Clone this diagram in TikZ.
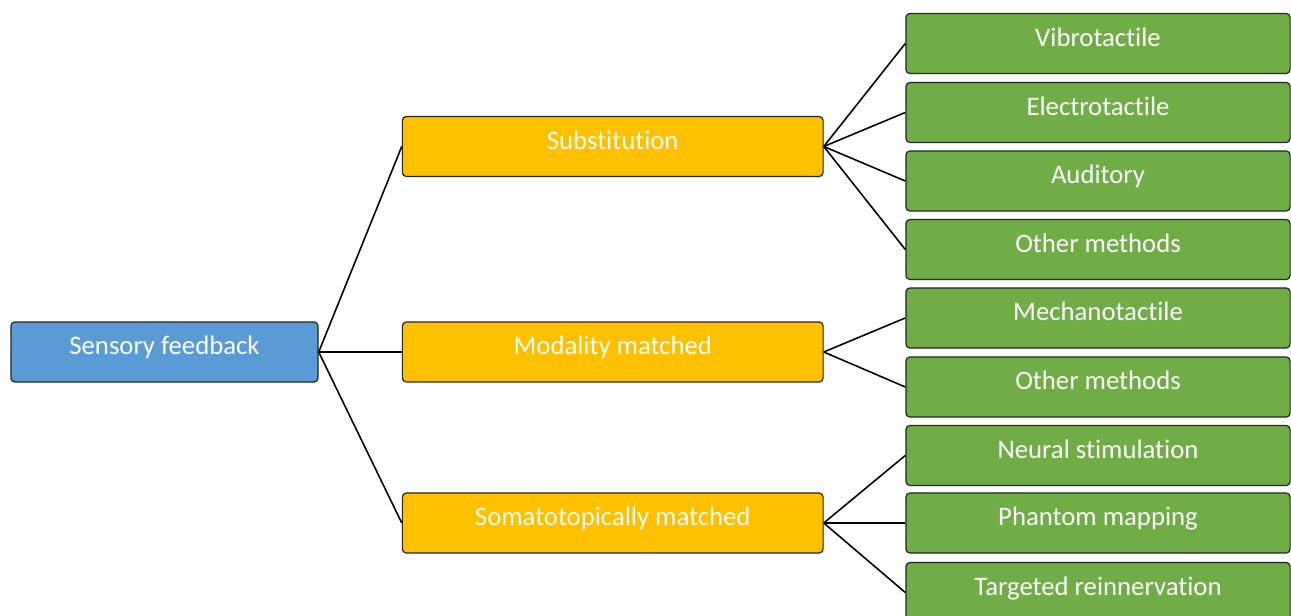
\documentclass[tikz,border=0pt]{standalone}
\usepackage{fontspec}
\setmainfont[Ligatures=NoCommon]{Carlito}
\definecolor{rootblue}{HTML}{5B9BD5}
\definecolor{midorange}{HTML}{FFC000}
\definecolor{leafgreen}{HTML}{70AD47}
\definecolor{edgegray}{HTML}{262626}
\tikzset{
  box/.style={draw=edgegray, line width=0.35pt, rounded corners=0.04cm, text=white,
    font=\fontsize{7.6}{8}\selectfont, text height=0.06cm, text depth=0pt,
    inner sep=0pt, minimum height=0.6cm, anchor=center},
  rootbox/.style={box, fill=rootblue, minimum width=3.07cm},
  midbox/.style={box, fill=midorange, minimum width=4.205cm},
  leafbox/.style={box, fill=leafgreen, minimum width=3.84cm},
  conn/.style={draw=black, line width=0.45pt}
}
\begin{document}
\begin{tikzpicture}[x=0.01cm, y=-0.01cm]
\useasboundingbox (0,0) rectangle (1291,616);
\clip (0,0) rectangle (1291,616);
\node[rootbox] (root) at (164.5,352) {Sensory feedback};
\node[midbox] (sub) at (612.75,146.5) {Substitution};
\node[midbox] (mod) at (612.75,352) {Modality matched};
\node[midbox] (som) at (612.75,523) {Somatotopically matched};
\node[leafbox] (l1) at (1098,43.5) {Vibrotactile};
\node[leafbox] (l2) at (1098,112.5) {Electrotactile};
\node[leafbox] (l3) at (1098,181) {Auditory};
\node[leafbox] (l4) at (1098,249.5) {Other methods};
\node[leafbox] (l5) at (1098,318) {Mechanotactile};
\node[leafbox] (l6) at (1098,387) {Other methods};
\node[leafbox] (l7) at (1098,455.5) {Neural stimulation};
\node[leafbox] (l8) at (1098,523) {Phantom mapping};
\node[leafbox] (l9) at (1098,592.5) {Targeted reinnervation};
\foreach \m in {sub,mod,som} \draw[conn] (root.east) -- (\m.west);
\foreach \l in {l1,l2,l3,l4} \draw[conn] (sub.east) -- (\l.west);
\foreach \l in {l5,l6} \draw[conn] (mod.east) -- (\l.west);
\foreach \l in {l7,l8,l9} \draw[conn] (som.east) -- (\l.west);
\end{tikzpicture}
\end{document}
